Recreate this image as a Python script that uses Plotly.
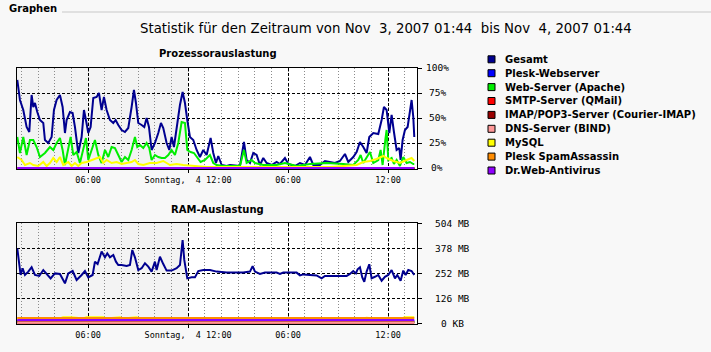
import plotly.graph_objects as go

W, H = 711, 352


def px(x):
    return x / W


def py(y):
    return 1 - y / H


# ---------------- data ----------------
page_heading = "Graphen"
main_title = "Statistik für den Zeitraum von Nov\u00a0 3, 2007 01:44\u00a0 bis Nov\u00a0 4, 2007 01:44"
cpu_title = "Prozessorauslastung"
ram_title = "RAM-Auslastung"

series_names = [
    "Gesamt", "Plesk-Webserver", "Web-Server (Apache)", "SMTP-Server (QMail)",
    "IMAP/POP3-Server (Courier-IMAP)", "DNS-Server (BIND)", "MySQL",
    "Plesk SpamAssassin", "Dr.Web-Antivirus",
]
series_colors = [
    "#000090", "#0000ff", "#00ee00", "#ff0000", "#990000",
    "#ff9999", "#ffff00", "#ff8c00", "#9000ff",
]

# time axis in hours since Nov 3 00:00 (range 01:44 .. 01:44 next day)
x_start_h = 1.733
x_end_h = 25.733
shade_end_h = 12.0
x_tickvals = [6, 12, 18, 24]
x_ticktext = ["06:00", "Sonntag,\u00a0 4 12:00", "06:00", "12:00"]
x_minor_vals = [h for h in range(2, 26)]

cpu_tickvals = [0, 25, 50, 75, 100]
cpu_ticktext = ["0%", "25%", "50%", "75%", "100%"]
ram_tickvals = [0, 126, 252, 378, 504]
ram_ticktext = ["0 KB", "126 MB", "252 MB", "378 MB", "504 MB"]

# CPU Gesamt (%)
cpu_gesamt_t = [
    1.75, 1.91, 2.11, 2.31, 2.47, 2.61, 2.71, 2.81, 2.95, 3.11, 3.31, 3.41, 3.61, 3.81,
    3.95, 4.11, 4.31, 4.47, 4.61, 4.71, 4.91, 5.07, 5.21, 5.41, 5.61, 5.75, 5.87, 6.01,
    6.15, 6.31, 6.51, 6.65, 6.81, 6.95, 7.11, 7.31, 7.51, 7.65, 7.81, 8.01, 8.21, 8.41,
    8.61, 8.75, 8.87, 9.01, 9.21, 9.37, 9.51, 9.65, 9.81, 10.01, 10.21, 10.37, 10.51,
    10.71, 10.87, 11.01, 11.15, 11.31, 11.51, 11.67, 11.81, 11.95, 12.11, 12.31, 12.51,
    12.71, 12.91, 13.11, 13.35, 13.51, 13.67, 13.81, 14.01, 14.31, 14.51, 15.11, 15.35,
    15.51, 15.71, 15.91, 16.11, 16.31, 16.51, 16.71, 17.01, 17.31, 17.51, 17.81, 18.01,
    18.41, 18.71, 19.01, 19.31, 19.51, 19.91, 20.21, 20.51, 20.81, 21.11, 21.41, 21.61,
    21.91, 22.11, 22.31, 22.51, 22.71, 22.87, 23.11, 23.41, 23.61, 23.75, 23.91, 24.07,
    24.21, 24.35, 24.51, 24.67, 24.75, 24.87, 25.01, 25.17, 25.31, 25.41, 25.51, 25.57,
]
cpu_gesamt = [
    88, 68, 58, 41, 36, 73, 61, 65, 56, 48, 45, 28, 25, 31,
    58, 68, 73, 61, 35, 48, 56, 55, 41, 15, 31, 58, 48, 35,
    41, 70, 71, 75, 58, 71, 58, 48, 45, 48, 43, 38, 36, 40,
    61, 78, 65, 45, 43, 41, 50, 41, 18, 25, 35, 45, 40,
    25, 18, 31, 21, 41, 63, 76, 65, 48, 31, 28, 18,
    11, 18, 13, 30, 15, 5, 12, 3, 2, 3, 2, 26,
    8, 5, 15, 13, 3, 10, 5, 3, 6, 4, 10, 4,
    2, 5, 3, 11, 3, 3, 7, 6, 5, 7, 14, 6,
    11, 16, 26, 21, 15, 31, 35, 34, 48, 61, 58, 35,
    53, 36, 18, 20, 8, 28, 38, 41, 56, 68, 51, 31,
]

# CPU Web-Server (Apache) (%)
cpu_apache_t = [
    1.75, 1.91, 2.11, 2.31, 2.51, 2.71, 2.91, 3.11, 3.41, 3.71, 3.91, 4.11, 4.31, 4.47,
    4.61, 4.81, 4.95, 5.11, 5.31, 5.51, 5.71, 5.87, 6.01, 6.21, 6.41, 6.61, 6.81, 7.01,
    7.21, 7.41, 7.61, 7.81, 8.01, 8.21, 8.41, 8.61, 8.81, 8.95, 9.11, 9.31, 9.51, 9.67,
    9.81, 10.01, 10.21, 10.41, 10.61, 10.81, 11.01, 11.21, 11.41, 11.61, 11.81, 11.95,
    12.15, 12.35, 12.55, 12.75, 13.01, 13.31, 13.51, 13.71, 14.11, 14.51, 15.11, 15.35,
    15.51, 15.81, 16.01, 16.51, 17.31, 17.81, 18.51, 19.31, 20.31, 21.31, 21.91, 22.21,
    22.35, 22.51, 22.91, 23.11, 23.41, 23.55, 23.67, 23.83, 23.91, 24.01, 24.21, 24.35,
    24.51, 24.71, 24.91, 25.11, 25.31, 25.51, 25.57,
]
cpu_apache = [
    31, 15, 31, 13, 28, 28, 21, 11, 15, 21, 18, 25, 30, 18,
    3, 21, 31, 13, 16, 5, 18, 30, 8, 18, 28, 13, 5, 18,
    11, 21, 20, 13, 6, 11, 8, 18, 31, 21, 23, 20, 25, 20,
    8, 13, 11, 10, 10, 13, 18, 13, 25, 46, 45, 18,
    16, 15, 10, 6, 8, 13, 5, 3, 2, 2, 2, 18,
    5, 8, 5, 3, 3, 5, 2, 4, 5, 4, 3, 8,
    13, 5, 16, 5, 8, 18, 3, 28, 38, 8, 10, 4,
    8, 2, 11, 5, 6, 4, 4,
]

# CPU MySQL (%)
cpu_mysql_t = [
    1.75, 2.01, 2.21, 2.51, 2.71, 3.01, 3.31, 3.51, 3.71, 3.91, 4.11, 4.31, 4.51, 4.81,
    5.01, 5.21, 5.41, 5.61, 5.91, 6.21, 6.51, 6.71, 6.91, 7.11, 7.41, 7.71, 8.01, 8.31,
    8.61, 8.81, 9.01, 9.31, 9.71, 10.11, 10.51, 10.91, 11.31, 11.71, 12.31, 13.11, 14.51,
    16.51, 18.51, 20.51, 22.11, 22.51, 22.91, 23.31, 23.71, 23.91, 24.31, 24.71, 25.11,
    25.41, 25.57,
]
cpu_mysql = [
    11, 8, 3, 5, 3, 2, 6, 2, 5, 10, 6, 11, 3, 6,
    2, 5, 2, 5, 6, 8, 10, 11, 5, 8, 5, 6, 4, 5,
    6, 8, 4, 3, 5, 5, 7, 3, 4, 3, 2, 1, 1,
    1, 1, 1, 3, 6, 7, 9, 12, 10, 7, 5, 8,
    10, 7,
]

# CPU services that stay at 0 %
cpu_zero_t = [1.75, 25.57]
cpu_zero = [0, 0]

# RAM Gesamt (MB)
ram_gesamt_t = [
    1.75, 1.83, 1.95, 2.07, 2.21, 2.41, 2.61, 2.81, 3.07, 3.31, 3.51, 3.75, 4.01, 4.31,
    4.61, 4.81, 5.07, 5.31, 5.61, 5.81, 6.01, 6.27, 6.41, 6.57, 6.81, 7.01, 7.15, 7.31,
    7.51, 7.67, 7.81, 8.01, 8.31, 8.51, 8.65, 8.81, 9.01, 9.21, 9.41, 9.61, 9.81, 10.01,
    10.11, 10.31, 10.51, 10.71, 11.01, 11.31, 11.51, 11.67, 11.77, 11.95, 12.21, 12.41,
    12.61, 12.91, 13.31, 13.71, 14.31, 14.51, 15.31, 15.71, 15.87, 16.01, 16.31, 16.61,
    17.31, 17.51, 17.71, 18.51, 18.71, 18.91, 19.71, 20.01, 20.21, 20.91, 21.51, 21.71,
    21.91, 22.07, 22.17, 22.31, 22.45, 22.57, 22.71, 22.87, 23.01, 23.21, 23.41, 23.61,
    23.81, 24.01, 24.21, 24.41, 24.55, 24.75, 24.91, 25.05, 25.21, 25.41, 25.57,
]
ram_gesamt = [
    376, 331, 242, 276, 242, 259, 281, 242, 237, 267, 247, 225, 250, 247,
    200, 250, 262, 217, 242, 262, 230, 242, 309, 297, 360, 331, 351, 331,
    343, 309, 292, 292, 287, 292, 368, 331, 267, 276, 301, 284, 259, 309,
    267, 334, 297, 264, 264, 276, 292, 418, 318, 225, 230, 230,
    262, 267, 267, 259, 254, 254, 254, 259, 287, 259, 247, 254,
    254, 247, 254, 254, 240, 245, 240, 225, 237, 237, 237, 247,
    262, 250, 271, 281, 230, 208, 259, 296, 225, 233, 242, 213,
    233, 242, 267, 225, 242, 213, 264, 242, 267, 262, 242,
]

# RAM of the single services (MB)
ram_small_t = [1.75, 4.0, 6.5, 9.0, 12.0, 16.0, 20.0, 23.2, 24.7, 25.57]
ram_plesk_web = [10, 10, 10, 10, 10, 10, 10, 10, 10, 10]
ram_apache = [6, 6, 6, 6, 5, 5, 5, 5, 5, 5]
ram_smtp = [2, 2, 2, 2, 2, 2, 2, 2, 2, 2]
ram_imap = [4, 4, 4, 4, 4, 4, 4, 4, 4, 4]
ram_dns = [3, 3, 3, 3, 3, 3, 3, 3, 3, 3]
ram_spam = [25, 25, 25, 25, 25, 25, 25, 28, 25, 25]
ram_drweb = [15, 15, 15, 15, 15, 15, 15, 15, 15, 15]

ram_mysql_t = [1.75, 4.3, 4.5, 5.0, 5.7, 5.9, 6.9, 7.1, 7.9, 8.1, 8.9, 9.1,
               22.5, 22.7, 23.2, 23.5, 24.8, 25.0, 25.57]
ram_mysql = [23, 23, 29, 29, 23, 29, 29, 23, 29, 23, 29, 23,
             23, 27, 23, 23, 23, 29, 29]

# ---------------- figure ----------------
fig = go.Figure()

cpu_series = [
    (cpu_gesamt_t, cpu_gesamt), (cpu_zero_t, cpu_zero), (cpu_apache_t, cpu_apache),
    (cpu_zero_t, cpu_zero), (cpu_zero_t, cpu_zero), (cpu_zero_t, cpu_zero),
    (cpu_mysql_t, cpu_mysql), (cpu_zero_t, cpu_zero), (cpu_zero_t, cpu_zero),
]
ram_series = [
    (ram_gesamt_t, ram_gesamt), (ram_small_t, ram_plesk_web), (ram_small_t, ram_apache),
    (ram_small_t, ram_smtp), (ram_small_t, ram_imap), (ram_small_t, ram_dns),
    (ram_mysql_t, ram_mysql), (ram_small_t, ram_spam), (ram_small_t, ram_drweb),
]

for name, color, (t, v) in zip(series_names, series_colors, cpu_series):
    fig.add_trace(go.Scatter(x=t, y=v, mode="lines", name=name, showlegend=False,
                             line=dict(color=color, width=2), xaxis="x", yaxis="y"))
for name, color, (t, v) in zip(series_names, series_colors, ram_series):
    fig.add_trace(go.Scatter(x=t, y=v, mode="lines", name=name, showlegend=False,
                             line=dict(color=color, width=2), xaxis="x2", yaxis="y2"))

mono = "DejaVu Sans Mono"
major_dash = "3px,2px"
minor_dash = "1px,2px"


def xaxis_cfg(anchor):
    return dict(
        domain=[px(17), px(417)], range=[x_start_h, x_end_h], anchor=anchor,
        tickmode="array", tickvals=x_tickvals, ticktext=x_ticktext,
        ticks="outside", ticklen=3, tickcolor="black",
        tickfont=dict(family=mono, size=8.5, color="black"),
        showgrid=True, gridcolor="black", griddash=major_dash, gridwidth=1,
        minor=dict(tickvals=x_minor_vals, showgrid=True, gridcolor="#8a8a8a",
                   griddash=minor_dash, gridwidth=1, ticks=""),
        showline=True, linecolor="black", linewidth=1, mirror=True, zeroline=False,
    )


def yaxis_cfg(anchor, dom, rng, tickvals):
    return dict(
        domain=dom, range=rng, anchor=anchor, side="right",
        tickmode="array", tickvals=tickvals, showticklabels=False,
        ticks="outside", ticklen=4, tickcolor="black",
        showgrid=True, gridcolor="black", griddash=major_dash, gridwidth=1,
        showline=True, linecolor="black", linewidth=1, mirror=True, zeroline=False,
    )


shapes = []
annotations = []

for xr, yr in (("x", "y domain"), ("x2", "y2 domain")):
    shapes.append(dict(type="rect", xref=xr, yref=yr, x0=x_start_h, x1=shade_end_h,
                       y0=0, y1=1, fillcolor="#f3f3f3", line=dict(width=0), layer="below"))

# header line
shapes.append(dict(type="line", xref="paper", yref="paper", x0=px(62), x1=1,
                   y0=py(12), y1=py(12), line=dict(color="#c8c8c8", width=1)))
annotations.append(dict(text=f"<b>{page_heading}</b>", x=px(7), y=py(9), xref="paper",
                        yref="paper", xanchor="left", yanchor="middle", showarrow=False,
                        font=dict(family="DejaVu Sans", size=10, color="black")))
annotations.append(dict(text=main_title, x=px(386), y=py(28), xref="paper", yref="paper",
                        xanchor="center", yanchor="middle", showarrow=False,
                        font=dict(family="DejaVu Sans", size=13.3, color="black")))
annotations.append(dict(text=f"<b>{cpu_title}</b>", x=px(218), y=py(53), xref="paper",
                        yref="paper", xanchor="center", yanchor="middle", showarrow=False,
                        font=dict(family="DejaVu Sans", size=10, color="black")))
annotations.append(dict(text=f"<b>{ram_title}</b>", x=px(217), y=py(209), xref="paper",
                        yref="paper", xanchor="center", yanchor="middle", showarrow=False,
                        font=dict(family="DejaVu Sans", size=10, color="black")))

for v, txt in zip(cpu_tickvals, cpu_ticktext):
    annotations.append(dict(text=txt, x=px(437), y=v, xref="paper", yref="y",
                            xanchor="center", yanchor="middle", showarrow=False,
                            font=dict(family=mono, size=9.5, color="black")))
for v, txt in zip(ram_tickvals, ram_ticktext):
    annotations.append(dict(text=txt, x=px(452), y=v, xref="paper", yref="y2",
                            xanchor="center", yanchor="middle", showarrow=False,
                            font=dict(family=mono, size=9.5, color="black")))

# legend
for i, (name, color) in enumerate(zip(series_names, series_colors)):
    yc = 59.3 + 13.9 * i
    shapes.append(dict(type="rect", xref="paper", yref="paper", x0=px(488), x1=px(495),
                       y0=py(yc + 3.5), y1=py(yc - 3.5), fillcolor=color,
                       line=dict(color="black", width=1)))
    annotations.append(dict(text=f"<b>{name}</b>", x=px(503), y=py(yc), xref="paper",
                            yref="paper", xanchor="left", yanchor="middle", showarrow=False,
                            font=dict(family="DejaVu Sans", size=10, color="black")))

fig.update_layout(
    width=W, height=H, autosize=False,
    margin=dict(l=0, r=0, t=0, b=0),
    paper_bgcolor="#f8f8f8", plot_bgcolor="white",
    showlegend=False,
    xaxis=xaxis_cfg("y"),
    yaxis=yaxis_cfg("x", [py(169), py(68)], [-1, 100], cpu_tickvals),
    xaxis2=xaxis_cfg("y2"),
    yaxis2=yaxis_cfg("x2", [py(324), py(223)], [-5, 504], ram_tickvals),
    shapes=shapes, annotations=annotations,
)

fig.write_html("out.html")
